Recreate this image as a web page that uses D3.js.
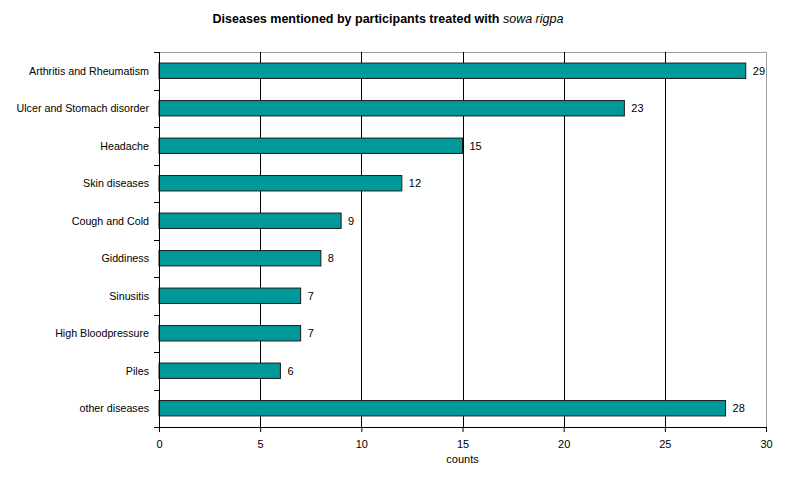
<!DOCTYPE html>
<html><head><meta charset="utf-8">
<script src="https://cdn.jsdelivr.net/npm/d3@7"></script>
<style>body{margin:0;background:#fff;}svg{display:block;font-family:"Liberation Sans",Arial,sans-serif;}</style>
</head><body>
<svg id="c" width="785" height="479"></svg>
<script>
const categories = ["Arthritis and Rheumatism","Ulcer and Stomach disorder","Headache","Skin diseases","Cough and Cold","Giddiness","Sinusitis","High Bloodpressure","Piles","other diseases"];
const counts = [29,23,15,12,9,8,7,7,6,28];
const xTicks = [0,5,10,15,20,25,30];

const svg = d3.select("#c");
const m = {l:159, r:766, t:52, b:427};
const x = d3.scaleLinear().domain([0,30]).range([m.l, m.r]);
const y = d3.scaleBand().domain(categories).range([m.t, m.b]).paddingInner(0.59).paddingOuter(0.295);

// title
const t = svg.append("text").attr("x", 388).attr("y", 23).attr("text-anchor","middle")
  .attr("font-size", 12.5).attr("font-weight","bold").attr("fill","#000");
t.append("tspan").text("Diseases mentioned by participants treated with ");
t.append("tspan").attr("font-style","italic").attr("font-weight","normal").text("sowa rigpa");

// plot border top/right
svg.append("line").attr("x1",m.l).attr("x2",m.r).attr("y1",m.t+0.5).attr("y2",m.t+0.5).attr("stroke","#a0a0a0");
svg.append("line").attr("x1",m.r+0.5).attr("x2",m.r+0.5).attr("y1",m.t).attr("y2",m.b).attr("stroke","#a0a0a0");

// gridlines
svg.append("g").selectAll("line").data(xTicks.filter(d=>d>0&&d<30)).join("line")
  .attr("x1",d=>Math.round(x(d))+0.5).attr("x2",d=>Math.round(x(d))+0.5)
  .attr("y1",m.t).attr("y2",m.b).attr("stroke","#000").attr("stroke-width",1);

// bars
svg.append("g").selectAll("rect").data(categories).join("rect")
  .attr("x", x(0)).attr("y", d=>y(d))
  .attr("width", (d,i)=>x(counts[i])-x(0)).attr("height", y.bandwidth())
  .attr("fill","#009999").attr("stroke","#1a1a1a").attr("stroke-width",1);

// value labels
svg.append("g").selectAll("text").data(categories).join("text")
  .attr("x",(d,i)=>x(counts[i])+7).attr("y", d=>y(d)+y.bandwidth()/2+4)
  .attr("font-size",11).attr("fill","#000").text((d,i)=>counts[i]);

// x axis
const xa = svg.append("g").attr("transform",`translate(0,${m.b})`)
  .call(d3.axisBottom(x).tickValues(xTicks).tickSize(5).tickPadding(8));
xa.select(".domain").attr("stroke","#000");
xa.selectAll("line").attr("stroke","#000");
xa.selectAll("text").attr("font-size",11).attr("font-family","Liberation Sans, Arial, sans-serif").attr("fill","#000");

// y axis with ticks at band boundaries
const ya = svg.append("g").attr("transform",`translate(${m.l},0)`);
ya.append("line").attr("x1",0.5).attr("x2",0.5).attr("y1",m.t).attr("y2",m.b).attr("stroke","#000");
const bounds = d3.range(categories.length+1).map(i=>m.t + i*(m.b-m.t)/categories.length);
ya.selectAll("line.tk").data(bounds).join("line").attr("class","tk")
  .attr("x1",-5).attr("x2",0).attr("y1",d=>Math.round(d)+0.5).attr("y2",d=>Math.round(d)+0.5).attr("stroke","#000");
ya.selectAll("text").data(categories).join("text")
  .attr("x",-10).attr("y",d=>y(d)+y.bandwidth()/2+4).attr("text-anchor","end")
  .attr("font-size",10.7).attr("fill","#000").text(d=>d);

// x label
svg.append("text").attr("x",(m.l+m.r)/2).attr("y",463).attr("text-anchor","middle")
  .attr("font-size",11).attr("fill","#000").text("counts");
</script>
</body></html>
